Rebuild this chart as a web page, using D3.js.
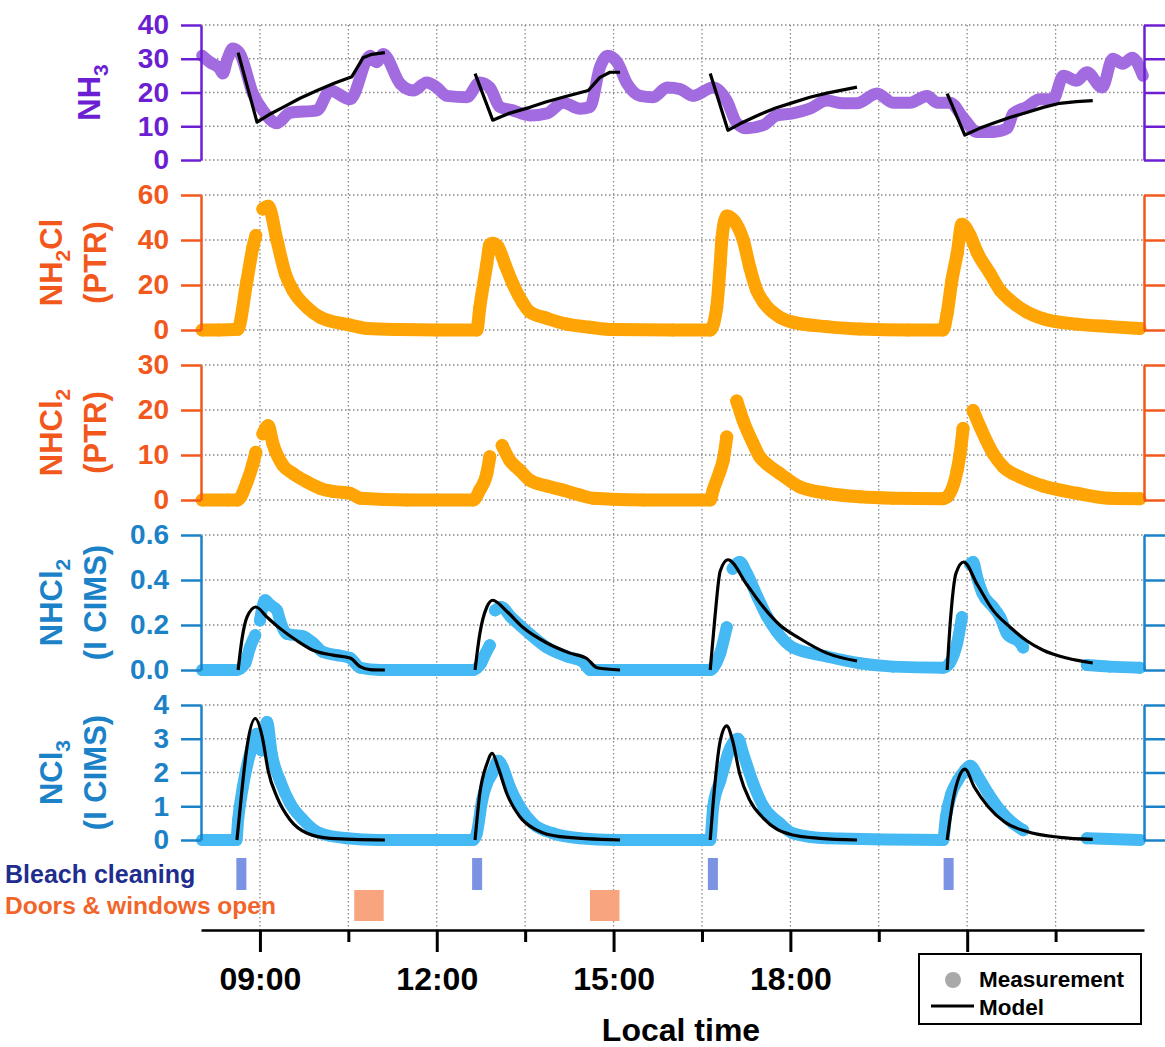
<!DOCTYPE html>
<html>
<head>
<meta charset="utf-8">
<script src="https://cdn.jsdelivr.net/npm/d3@7"></script>
<style>
body { margin: 0; background: #fff; }
svg text { font-family: "Liberation Sans", Arial, sans-serif; font-weight: bold; }
</style>
</head>
<body>
<svg id="chart" width="1165" height="1047"></svg>
<script>
// ---- data (time in decimal hours, local time) ----
const nh3Meas = [[8.02,30.9],[8.15,29.0],[8.32,27.0],[8.37,25.6],[8.45,30.0],[8.54,33.0],[8.66,31.5],[8.88,19.7],[9.05,14.7],[9.29,10.9],[9.51,14.0],[9.97,14.7],[10.19,20.6],[10.53,18.0],[10.87,30.9],[10.98,29.0],[11.09,31.4],[11.38,22.6],[11.60,20.6],[11.83,23.0],[12.00,21.5],[12.17,19.0],[12.51,18.6],[12.73,23.0],[12.90,21.5],[13.07,15.7],[13.29,14.7],[13.58,13.2],[13.87,13.8],[14.14,17.0],[14.43,15.2],[14.60,15.7],[14.77,27.5],[14.90,30.9],[15.06,29.0],[15.23,22.6],[15.45,19.0],[15.67,18.6],[15.91,21.5],[16.13,21.0],[16.35,19.0],[16.69,21.5],[16.92,17.6],[17.09,10.9],[17.26,9.4],[17.54,10.3],[17.77,13.2],[18.04,13.8],[18.33,15.2],[18.62,17.6],[18.89,16.8],[19.13,16.8],[19.47,19.7],[19.74,17.0],[20.03,17.0],[20.32,19.0],[20.49,17.0],[20.71,17.0],[20.93,12.6],[21.17,8.3],[21.44,8.3],[21.68,9.4],[21.78,13.8],[22.01,15.7],[22.23,18.0],[22.46,18.0],[22.63,25.0],[22.86,23.5],[23.03,26.0],[23.29,21.5],[23.47,30.0],[23.64,28.5],[23.80,30.3],[23.98,25.0]]

const nh3Model = [[8.63,31.8],[8.95,11.2],[9.15,13.4],[9.39,15.6],[9.68,18.3],[9.97,20.6],[10.27,22.8],[10.56,24.7],[10.75,30.3],[10.90,31.3],[11.12,31.8],null,
    [12.65,25.6],[12.95,11.8],[13.10,12.9],[13.24,13.9],[13.58,15.6],[13.85,17.2],[14.14,18.6],[14.57,20.6],[14.77,24.5],[14.94,26.0],[15.11,26.0],null,
    [16.64,25.6],[16.94,8.8],[17.15,10.8],[17.48,13.5],[17.75,15.4],[18.04,17.0],[18.33,18.6],[18.62,19.8],[19.13,21.6],null,
    [20.66,19.7],[20.96,7.4],[21.20,9.3],[21.44,10.9],[21.72,12.6],[22.01,14.1],[22.29,15.6],[22.57,16.8],[22.85,17.3],[23.13,17.6]]

const nh2clPtr = [[8.02,0],[8.30,0],[8.62,0.3],[8.78,22],[8.88,36.7],[8.93,42],null,[9.05,53.8],[9.14,55],[9.29,39.7],[9.43,25],[9.56,17.6],[9.80,10],[10.02,5.7],[10.53,2.2],[10.82,0.7],[11.38,0.2],[12.00,0],[12.68,0],[12.73,10],[12.85,29.5],[12.90,38],[12.95,38.6],[13.04,37],[13.16,29],[13.29,20.6],[13.45,12.5],[13.58,8],[13.87,5.2],[14.21,2.6],[14.60,1.2],[14.99,0.2],[16.00,0],[16.64,0],[16.75,10],[16.81,29.5],[16.84,41],[16.92,50.7],[17.06,48],[17.20,40],[17.31,28],[17.43,17.6],[17.54,12.5],[17.82,5.7],[18.04,3.5],[18.62,1.5],[19.18,0.4],[20.00,0],[20.59,0],[20.66,7.4],[20.74,22],[20.83,34],[20.91,47],[21.05,42],[21.17,34.5],[21.39,25],[21.56,17.6],[21.73,13.2],[22.01,8],[22.29,5],[22.86,2.6],[23.42,1.5],[23.93,0.7]]

const nhcl2Ptr = [[8.02,0],[8.45,0],[8.62,0],[8.78,4],[8.88,8],[8.93,10.6],null,[9.05,14.7],[9.14,16.5],[9.22,12.5],[9.39,7.7],[9.56,5.9],[9.80,4],[10.02,2.6],[10.24,1.9],[10.53,1.5],[10.70,0.4],[11.50,0],[12.62,0],[12.73,2.2],[12.85,5.9],[12.90,9.6],null,[13.11,12.1],[13.24,8.8],[13.41,6.6],[13.58,4.4],[13.87,3.1],[14.14,2.2],[14.43,1.1],[14.65,0.4],[15.50,0],[16.64,0],[16.69,2.2],[16.81,6.6],[16.86,8.8],[16.92,14],null,[17.09,22],[17.20,17.6],[17.37,12.5],[17.48,9.6],[17.60,8],[17.82,5.9],[18.16,2.9],[18.62,1.5],[19.18,0.7],[19.74,0.4],[20.59,0.3],[20.66,0.7],[20.83,6.6],[20.88,10.3],[20.93,15.9],null,[21.10,19.9],[21.22,16.2],[21.44,10.3],[21.61,7.4],[21.90,5.1],[22.29,3.1],[22.86,1.5],[23.42,0.4],[23.93,0.3]]

const nhcl2Cims = [[8.02,0],[8.60,0],[8.75,0.03],[8.83,0.10],[8.92,0.155],null,[9.00,0.22],[9.09,0.31],[9.17,0.29],[9.29,0.265],[9.34,0.22],[9.46,0.16],[9.73,0.15],[9.90,0.12],[10.07,0.08],[10.31,0.066],[10.53,0.053],[10.70,0.01],[11.04,0],[12.62,0],[12.75,0.03],[12.83,0.075],[12.90,0.11],null,[12.99,0.265],[13.09,0.28],[13.26,0.235],[13.58,0.16],[13.87,0.10],[14.21,0.06],[14.48,0.037],[14.60,0],[16.64,0],[16.69,0.01],[16.81,0.075],[16.92,0.19],null,[17.02,0.45],[17.14,0.48],[17.26,0.43],[17.45,0.32],[17.60,0.24],[17.77,0.17],[18.04,0.10],[18.62,0.06],[19.18,0.03],[19.74,0.015],[20.59,0.01],[20.70,0.03],[20.83,0.12],[20.91,0.235],null,[21.05,0.47],[21.10,0.48],[21.17,0.41],[21.26,0.34],[21.44,0.28],[21.56,0.235],[21.68,0.16],[21.90,0.12],[21.95,0.10],null,[23.03,0.022],[23.42,0.015],[23.93,0.01]]

const nhcl2Model = [[8.63,0],[8.70,0.145],[8.78,0.235],[8.93,0.28],[9.12,0.235],[9.34,0.185],[9.63,0.13],[9.90,0.088],[10.24,0.066],[10.53,0.053],[10.70,0.015],[10.87,0.002],[11.12,0],null,
    [12.65,0],[12.73,0.16],[12.85,0.28],[12.95,0.31],[13.19,0.26],[13.46,0.19],[13.87,0.12],[14.26,0.075],[14.55,0.05],[14.72,0.01],[15.11,0],null,
    [16.64,0],[16.72,0.235],[16.81,0.44],[16.94,0.49],[17.26,0.38],[17.48,0.30],[17.82,0.20],[18.16,0.14],[18.62,0.075],[19.13,0.04],null,
    [20.66,0],[20.72,0.235],[20.81,0.43],[20.94,0.48],[21.17,0.38],[21.44,0.265],[21.73,0.19],[22.01,0.13],[22.29,0.088],[22.69,0.053],[23.13,0.031]]

const ncl3Cims = [[8.02,0],[8.60,0],[8.63,0.6],[8.71,1.57],[8.83,2.55],[8.95,3.15],[9.03,2.65],[9.12,3.5],[9.20,2.55],[9.34,1.76],[9.51,1.09],[9.73,0.6],[10.02,0.2],[10.48,0.05],[11.00,0],[12.62,0],[12.68,0.2],[12.77,1.18],[12.85,1.67],[12.94,1.97],[13.04,2.35],[13.12,2.15],[13.24,1.57],[13.41,0.98],[13.63,0.49],[13.97,0.2],[14.43,0.05],[15.00,0],[16.64,0],[16.69,0.98],[16.81,1.76],[16.89,2.25],[16.94,2.55],[17.11,3.0],[17.20,2.55],[17.37,1.67],[17.54,1.0],[17.82,0.5],[18.04,0.2],[18.62,0.05],[20.59,0],[20.64,0.69],[20.73,1.37],[20.84,1.76],[20.96,2.06],[21.05,2.2],[21.19,1.86],[21.36,1.37],[21.56,0.88],[21.78,0.49],[21.95,0.29],null,[23.03,0.05],[23.93,0]]

const ncl3Model = [[8.61,0],[8.70,1.57],[8.78,2.75],[8.92,3.6],[9.04,3.05],[9.14,2.05],[9.29,1.27],[9.51,0.6],[9.80,0.2],[10.19,0.05],[11.12,0],null,
    [12.65,0],[12.73,1.37],[12.85,2.25],[12.94,2.57],[13.04,2.16],[13.19,1.37],[13.41,0.69],[13.70,0.29],[14.09,0.1],[15.11,0],null,
    [16.64,0],[16.72,1.67],[16.81,2.94],[16.92,3.38],[17.02,2.94],[17.14,1.96],[17.31,1.18],[17.54,0.65],[17.77,0.32],[18.04,0.15],[18.50,0.05],[19.13,0],null,
    [20.66,0],[20.76,1.18],[20.86,1.86],[20.96,2.1],[21.12,1.57],[21.36,0.98],[21.63,0.54],[22.01,0.25],[22.57,0.08],[23.13,0.02]]

const bleachStart = [8.60, 12.60, 16.60, 20.60]
const bleachEnd = [8.77, 12.77, 16.77, 20.77]
const doorsStart = [10.60, 14.60]
const doorsEnd = [11.10, 15.10]

// the 21:00 label sits under the legend box in the original, so it is left blank
const majorHours = [9, 12, 15, 18, 21]
const timeLabels = ['09:00', '12:00', '15:00', '18:00', '']
const minorHours = [10.5, 13.5, 16.5, 19.5, 22.5]
const gridHours = [9, 10.5, 12, 13.5, 15, 16.5, 18, 19.5, 21, 22.5]

const nh3Ticks = [0, 10, 20, 30, 40]
const nh2clTicks = [0, 20, 40, 60]
const nhcl2PtrTicks = [0, 10, 20, 30]
const nhcl2CimsTicks = [0, 0.2, 0.4, 0.6]
const ncl3Ticks = [0, 1, 2, 3, 4]

// ---- layout ----
const svg = d3.select('#chart')
const left = 201, right = 1144, axisY = 930
const x = d3.scaleLinear().domain([8, 24]).range([left, right])

const purple = '#6c1fd2', orangeAx = '#f2581c', blueAx = '#1c82c8'
const panels = [
    {top: 25, bottom: 160, ticks: nh3Ticks, fmt: d3.format('d'), color: purple,
        label: [[['NH', 0], ['3', 1]]], labelX: [100],
        meas: nh3Meas, measColor: '#a26ce0', measWidth: 12, dots: false,
        model: nh3Model, modelCurve: d3.curveLinear},
    {top: 195, bottom: 330, ticks: nh2clTicks, fmt: d3.format('d'), color: orangeAx,
        label: [[['NH', 0], ['2', 1], ['Cl', 0]], [['(PTR)', 0]]], labelX: [62, 106],
        meas: nh2clPtr, measColor: '#ffa405', measWidth: 13, dots: true},
    {top: 365, bottom: 500, ticks: nhcl2PtrTicks, fmt: d3.format('d'), color: orangeAx,
        label: [[['NHCl', 0], ['2', 1]], [['(PTR)', 0]]], labelX: [62, 106],
        meas: nhcl2Ptr, measColor: '#ffa405', measWidth: 13, dots: true},
    {top: 535, bottom: 670, ticks: nhcl2CimsTicks, fmt: d3.format('.1f'), color: blueAx,
        label: [[['NHCl', 0], ['2', 1]], [['(I CIMS)', 0]]], labelX: [62, 106],
        meas: nhcl2Cims, measColor: '#45b9f3', measWidth: 12, dots: true,
        model: nhcl2Model, modelCurve: d3.curveMonotoneX},
    {top: 705, bottom: 840, ticks: ncl3Ticks, fmt: d3.format('d'), color: blueAx,
        label: [[['NCl', 0], ['3', 1]], [['(I CIMS)', 0]]], labelX: [62, 106],
        meas: ncl3Cims, measColor: '#45b9f3', measWidth: 12, dots: true,
        model: ncl3Model, modelCurve: d3.curveMonotoneX}
]

// vertical dotted grid through all panels
svg.append('g').selectAll('line').data(gridHours).join('line')
    .attr('x1', d => x(d)).attr('x2', d => x(d))
    .attr('y1', 25).attr('y2', axisY)
    .attr('stroke', '#8a8a8a').attr('stroke-width', 1.3).attr('stroke-dasharray', '1.5,2.5')

panels.forEach(p => {
    const y = d3.scaleLinear().domain([p.ticks[0], p.ticks[p.ticks.length - 1]]).range([p.bottom, p.top])
    const g = svg.append('g')

    g.append('g').selectAll('line').data(p.ticks).join('line')
        .attr('x1', left).attr('x2', right)
        .attr('y1', d => y(d)).attr('y2', d => y(d))
        .attr('stroke', '#8a8a8a').attr('stroke-width', 1.3).attr('stroke-dasharray', '1.5,2.5')

    const line = d3.line()
        .defined(d => d !== null)
        .x(d => x(d[0])).y(d => y(d[1]))
        .curve(d3.curveMonotoneX)

    g.append('path').datum(p.meas)
        .attr('d', line)
        .attr('fill', 'none').attr('stroke', p.measColor)
        .attr('stroke-width', p.measWidth)
        .attr('stroke-linecap', 'round').attr('stroke-linejoin', 'round')
    if (p.dots) {
        g.append('g').selectAll('circle').data(p.meas.filter(d => d !== null)).join('circle')
            .attr('cx', d => x(d[0])).attr('cy', d => y(d[1]))
            .attr('r', p.measWidth / 2).attr('fill', p.measColor)
    }
    if (p.model) {
        g.append('path').datum(p.model)
            .attr('d', line.curve(p.modelCurve))
            .attr('fill', 'none').attr('stroke', '#000')
            .attr('stroke-width', 3.2).attr('stroke-linejoin', 'round')
    }

    const axL = g.append('g').attr('transform', `translate(${left},0)`)
        .call(d3.axisLeft(y).tickValues(p.ticks).tickFormat(p.fmt).tickSize(20).tickSizeOuter(0).tickPadding(12))
    const axR = g.append('g').attr('transform', `translate(${right},0)`)
        .call(d3.axisRight(y).tickValues(p.ticks).tickFormat('').tickSize(22).tickSizeOuter(0))
    ;[axL, axR].forEach(a => {
        a.select('.domain').attr('stroke', p.color).attr('stroke-width', 2.5)
        a.selectAll('.tick line').attr('stroke', p.color).attr('stroke-width', 2.5)
        a.selectAll('.tick text').attr('fill', p.color).attr('font-size', 28)
            .style('font-family', '"Liberation Sans", Arial, sans-serif').style('font-weight', 'bold')
    })

    const cy = (p.top + p.bottom) / 2
    p.label.forEach((parts, i) => {
        const t = g.append('text')
            .attr('transform', `translate(${p.labelX[i]},${cy}) rotate(-90)`)
            .attr('text-anchor', 'middle').attr('fill', p.color).attr('font-size', 31)
        parts.forEach(([s, sub]) => {
            const ts = t.append('tspan').text(s)
            if (sub) ts.attr('font-size', 21).attr('dy', 8)
            else if (t.selectAll('tspan').size() > 1) ts.attr('dy', -8)
        })
    })
})

// event bars below the panels
svg.append('g').selectAll('rect').data(d3.zip(bleachStart, bleachEnd)).join('rect')
    .attr('x', d => x(d[0])).attr('width', d => x(d[1]) - x(d[0]))
    .attr('y', 858).attr('height', 32).attr('fill', '#7c92e2')
svg.append('g').selectAll('rect').data(d3.zip(doorsStart, doorsEnd)).join('rect')
    .attr('x', d => x(d[0])).attr('width', d => x(d[1]) - x(d[0]))
    .attr('y', 890).attr('height', 31).attr('fill', '#f8a57f')
svg.append('text').attr('x', 5).attr('y', 883).attr('font-size', 25).attr('fill', '#1e2d8e').text('Bleach cleaning')
svg.append('text').attr('x', 5).attr('y', 914).attr('font-size', 24.5).attr('fill', '#f2652a').text('Doors & windows open')

// time axis
const gx = svg.append('g').attr('transform', `translate(0,${axisY})`)
    .call(d3.axisBottom(x).tickValues(majorHours).tickSize(22).tickSizeOuter(0).tickPadding(15)
        .tickFormat((d, i) => timeLabels[i]))
gx.select('.domain').attr('stroke', '#000').attr('stroke-width', 2.5)
gx.selectAll('.tick line').attr('stroke', '#000').attr('stroke-width', 3)
gx.selectAll('.tick text').attr('fill', '#000').attr('font-size', 32)
    .style('font-family', '"Liberation Sans", Arial, sans-serif').style('font-weight', 'bold')
const gm = svg.append('g').attr('transform', `translate(0,${axisY})`)
    .call(d3.axisBottom(x).tickValues(minorHours).tickSize(12).tickFormat(''))
gm.select('.domain').remove()
gm.selectAll('.tick line').attr('stroke', '#000').attr('stroke-width', 3)

svg.append('text').attr('x', 681).attr('y', 1041).attr('text-anchor', 'middle')
    .attr('font-size', 32).attr('fill', '#000').text('Local time')

// legend
const lg = svg.append('g')
lg.append('rect').attr('x', 919).attr('y', 954).attr('width', 222).attr('height', 70)
    .attr('fill', '#fff').attr('stroke', '#000').attr('stroke-width', 2)
lg.append('circle').attr('cx', 953).attr('cy', 980).attr('r', 8).attr('fill', '#a9a9a9')
lg.append('text').attr('x', 979).attr('y', 987).attr('font-size', 22.5).text('Measurement')
lg.append('line').attr('x1', 931).attr('x2', 974).attr('y1', 1006).attr('y2', 1006)
    .attr('stroke', '#000').attr('stroke-width', 3)
lg.append('text').attr('x', 979).attr('y', 1015).attr('font-size', 22.5).text('Model')
</script>
</body>
</html>
